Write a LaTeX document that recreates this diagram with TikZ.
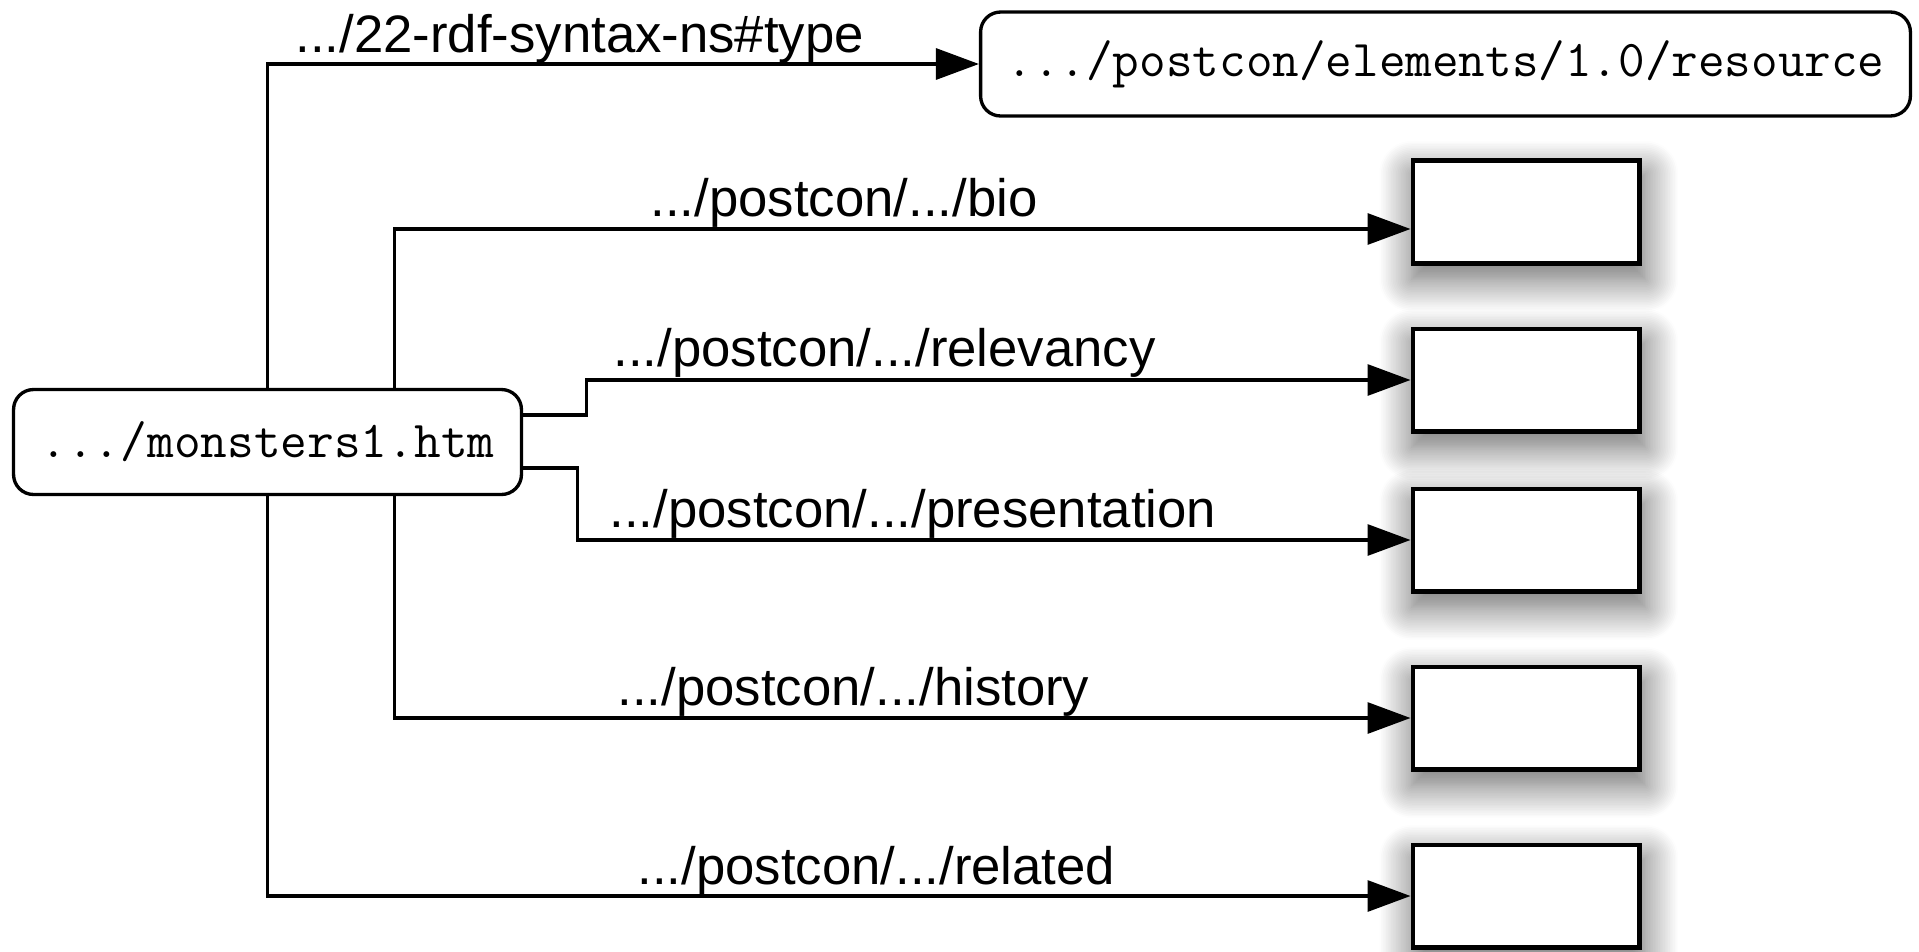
\documentclass[tikz,border=0pt]{standalone}
\usepackage{fontspec}
\setmainfont{Liberation Sans}
\usetikzlibrary{arrows.meta, shadows.blur}
\tikzstyle{uri}=[draw, rounded corners=0.4cm, line width=1.9pt, inner sep=0pt]
\tikzstyle{blank}=[draw, fill=white, line width=2.3pt, minimum width=4.54cm, minimum height=2.06cm,
  blur shadow={shadow xshift=1.5pt, shadow yshift=-8pt, shadow scale=1.03, shadow blur radius=18pt, shadow opacity=60, shadow blur steps=20}]
\tikzstyle{prop}=[anchor=base west, inner sep=0pt, font=\fontsize{30}{36}\selectfont]

\begin{document}
\begin{tikzpicture}[x=0.02cm, y=-0.02cm, >={Triangle[length=0.86cm,width=0.62cm]}, line width=1.8pt]
  \useasboundingbox (0,0) rectangle (1919,951);

  \node [uri, minimum width=10.16cm, minimum height=2.1cm, font=\ttfamily\fontsize{29.5}{36}\selectfont] (page) at (267.5,442) {.../monsters1.htm};
  \node [uri, minimum width=18.6cm, minimum height=2.08cm, font=\ttfamily\fontsize{29.4}{36}\selectfont] (res) at (1445.5,64) {.../postcon/elements/1.0/resource};

  \node [blank] (bio) at (1526,212) {};
  \node [blank] (relv) at (1526,380) {};
  \node [blank] (pres) at (1526,540) {};
  \node [blank] (hist) at (1526,718) {};
  \node [blank] (rel) at (1526,896) {};

  \node [prop] (ltype) at (294,52) {.../22-rdf-syntax-ns\#type};
  \node [prop] (lbio) at (649,216) {.../postcon/.../bio};
  \node [prop] (lrelv) at (612,366) {.../postcon/.../relevancy};
  \node [prop] (lpres) at (608,527) {.../postcon/.../presentation};
  \node [prop] (lhist) at (616,705) {.../postcon/.../history};
  \node [prop] (lrel) at (636,884) {.../postcon/.../related};

  \draw[->] (page.north) |- (res.west);
  \draw[->] ([xshift=2.54cm]page.north) |- ([yshift=-0.34cm]bio.west);
  \draw[->] ([yshift=0.54cm]page.east) -- ++(63,0) |- (relv.west);
  \draw[->] ([yshift=-0.52cm]page.east) -- ++(54,0) |- (pres.west);
  \draw[->] ([xshift=2.54cm]page.south) |- (hist.west);
  \draw[->] (page.south) |- (rel.west);
\end{tikzpicture}
\end{document}
